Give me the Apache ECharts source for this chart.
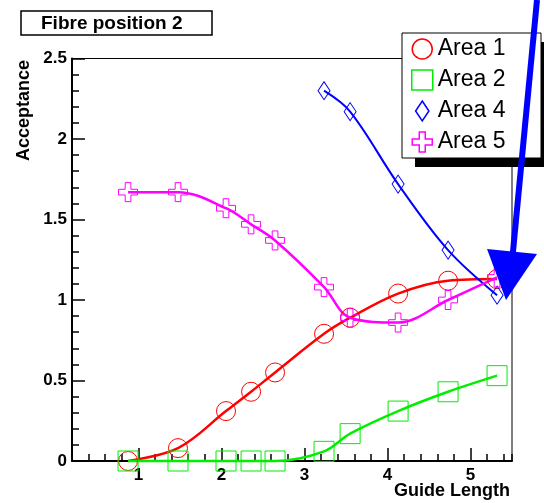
<!DOCTYPE html>
<html>
<head>
<meta charset="utf-8">
<script src="https://cdn.jsdelivr.net/npm/echarts@6/dist/echarts.min.js"></script>
<style>
  html, body { margin: 0; padding: 0; background: #fff; }
  #chart { width: 544px; height: 503px; }
</style>
</head>
<body>
<div id="chart"></div>
<script>
// ---- data ----
const guideLength = [0.875, 1.477, 2.055, 2.357, 2.646, 3.236, 3.55, 4.128, 4.73, 5.32];
const area1 = [0, 0.08, 0.31, 0.43, 0.55, 0.79, 0.89, 1.04, 1.12, 1.13];
const area2 = [0, 0, 0, 0, 0, 0.06, 0.17, 0.31, 0.43, 0.53];
const area4Length = [3.236, 3.55, 4.128, 4.73, 5.32];
const area4 = [2.30, 2.17, 1.72, 1.31, 1.03];
const area5 = [1.67, 1.67, 1.57, 1.47, 1.37, 1.08, 0.89, 0.86, 1.00, 1.14];

const xMin = 0.2, xMax = 5.5;
const xMajorTicks = [1, 2, 3, 4, 5];
const yMin = 0, yMax = 2.5, yStep = 0.5;

const seriesNames = ['Area 1', 'Area 2', 'Area 4', 'Area 5'];
const seriesColors = ['#ff0000', '#00ee00', '#0000ff', '#ff00ff'];

const FONT = "'Liberation Sans', Arial, Helvetica, sans-serif";
const CROSS = 'path://M7 0H13V7H20V13H13V20H7V13H0V7H7Z';
const DIAMOND = 'path://M6 0L12 9L6 18L0 9Z';

function pairs(xs, ys) { return xs.map((x, i) => [x, ys[i]]); }

function lineSeries(name, data, color, symbol, size, width) {
  return {
    name: name, type: 'line', data: data,
    xAxisIndex: 0, yAxisIndex: 0,
    smooth: 0.35,
    symbol: symbol, symbolSize: size, showSymbol: true,
    lineStyle: { color: color, width: width },
    itemStyle: { color: 'rgba(0,0,0,0)', borderColor: color, borderWidth: 1 },
    emphasis: { disabled: true },
    clip: false,
    z: 3
  };
}

const chart = echarts.init(document.getElementById('chart'), null, { renderer: 'canvas' });

const option = {
  animation: false,
  backgroundColor: '#fff',
  grid: {
    left: 72, top: 58.5, right: 32, bottom: 42,
    show: true, borderColor: '#000', borderWidth: 1, backgroundColor: 'transparent'
  },
  xAxis: [
    {
      type: 'value', min: xMin, max: xMax, position: 'bottom',
      axisLine: { show: true, onZero: false, lineStyle: { color: '#000', width: 2 } },
      axisTick: { show: true, inside: true, length: 13, customValues: xMajorTicks, lineStyle: { color: '#000', width: 1.5 } },
      axisLabel: { show: true, customValues: xMajorTicks, margin: 6, color: '#000', fontSize: 17, fontWeight: 'bold', fontFamily: FONT },
      splitLine: { show: false }
    },
    {
      type: 'value', min: xMin, max: xMax, interval: 0.2, position: 'bottom',
      axisLine: { show: false },
      axisTick: { show: true, inside: true, length: 7, lineStyle: { color: '#000', width: 1.5 } },
      axisLabel: { show: false },
      splitLine: { show: false }
    }
  ],
  yAxis: {
    type: 'value', min: yMin, max: yMax, interval: yStep,
    axisLine: { show: true, onZero: false, lineStyle: { color: '#000', width: 2 } },
    axisTick: { show: true, inside: true, length: 13, lineStyle: { color: '#000', width: 1.5 } },
    minorTick: { show: true, splitNumber: 5, length: 7, lineStyle: { color: '#000', width: 1.5 } },
    axisLabel: { margin: 5, color: '#000', fontSize: 17, fontWeight: 'bold', fontFamily: FONT },
    splitLine: { show: false }
  },
  legend: {
    orient: 'vertical', left: 411, top: 37.5, padding: 0,
    itemWidth: 21, itemHeight: 20, itemGap: 8,
    symbolKeepAspect: true,
    selectedMode: false,
    z: 10,
    textStyle: { fontSize: 23, lineHeight: 21, color: '#000', fontFamily: FONT },
    data: [
      { name: seriesNames[0], icon: 'circle', itemStyle: { color: 'rgba(0,0,0,0)', borderColor: seriesColors[0], borderWidth: 1.5 } },
      { name: seriesNames[1], icon: 'rect', itemStyle: { color: 'rgba(0,0,0,0)', borderColor: seriesColors[1], borderWidth: 1.5 } },
      { name: seriesNames[2], icon: DIAMOND, itemStyle: { color: 'rgba(0,0,0,0)', borderColor: seriesColors[2], borderWidth: 1.5 } },
      { name: seriesNames[3], icon: CROSS, itemStyle: { color: 'rgba(0,0,0,0)', borderColor: seriesColors[3], borderWidth: 1.5 } }
    ]
  },
  series: [
    lineSeries(seriesNames[0], pairs(guideLength, area1), seriesColors[0], 'circle', 19, 2.5),
    lineSeries(seriesNames[1], pairs(guideLength, area2), seriesColors[1], 'rect', 20, 2.5),
    lineSeries(seriesNames[2], pairs(area4Length, area4), seriesColors[2], DIAMOND, [12, 18], 2),
    lineSeries(seriesNames[3], pairs(guideLength, area5), seriesColors[3], CROSS, 19, 2.5)
  ],
  graphic: [
    // title box
    { type: 'rect', z: 5, shape: { x: 21, y: 11, width: 191, height: 24 }, style: { fill: '#fff', stroke: '#000', lineWidth: 1.5 } },
    { type: 'text', z: 6, x: 41, y: 23.5, style: { text: 'Fibre position 2', font: 'bold 19px ' + FONT, fill: '#000', align: 'left', verticalAlign: 'middle' } },
    // axis titles
    { type: 'text', z: 6, x: 24, y: 60, rotation: Math.PI / 2, style: { text: 'Acceptance', font: 'bold 18px ' + FONT, fill: '#000', align: 'right', verticalAlign: 'middle' } },
    { type: 'text', z: 6, x: 510, y: 491, style: { text: 'Guide Length', font: 'bold 18px ' + FONT, fill: '#000', align: 'right', verticalAlign: 'middle' } },
    // legend frame with shadow
    { type: 'rect', z: 8, shape: { x: 415, y: 42, width: 140, height: 125 }, style: { fill: '#000' } },
    { type: 'rect', z: 9, shape: { x: 402, y: 33, width: 139, height: 125 }, style: { fill: '#fff', stroke: '#000', lineWidth: 1 } },
    // blue annotation arrow
    { type: 'line', z: 20, shape: { x1: 537, y1: 0, x2: 512, y2: 262 }, style: { stroke: '#0000ff', lineWidth: 6 } },
    { type: 'polygon', z: 20, shape: { points: [[487, 249], [537, 254], [506, 300]] }, style: { fill: '#0000ff' } }
  ]
};

chart.setOption(option);
</script>
</body>
</html>
